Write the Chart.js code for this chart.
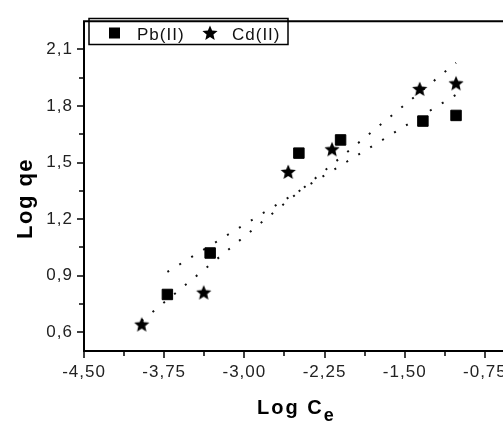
<!DOCTYPE html>
<html>
<head>
<meta charset="utf-8">
<title>Log qe vs Log Ce</title>
<script src="https://cdn.jsdelivr.net/npm/chart.js@4.4.1/dist/chart.umd.min.js"></script>
<style>
  html, body { margin: 0; padding: 0; background: #fff; overflow: hidden; width: 503px; height: 421px; }
  #wrap { position: relative; width: 540px; height: 421px; }
</style>
</head>
<body>
<div id="wrap"><canvas id="chart" width="540" height="421"></canvas></div>
<script>
// Measured isotherm points (log-log)
const pbLogCe = [-3.72, -3.32, -2.49, -2.10, -1.33, -1.02];
const pbLogQe = [0.80, 1.02, 1.55, 1.62, 1.72, 1.75];
const cdLogCe = [-3.96, -3.38, -2.59, -2.18, -1.36, -1.02];
const cdLogQe = [0.64, 0.81, 1.45, 1.57, 1.89, 1.92];

// Linear fit lines (end points)
const pbFitCe = [-3.72, -1.02];
const pbFitQe = [0.92, 1.86];
const cdFitCe = [-3.96, -1.02];
const cdFitQe = [0.66, 2.03];

// Axis ticks
const xMajorTicks = [-4.5, -3.75, -3.0, -2.25, -1.5, -0.75];
const xMinorTicks = [-4.125, -3.375, -2.625, -1.875, -1.125, -0.375];
const yMajorTicks = [0.6, 0.9, 1.2, 1.5, 1.8, 2.1];
const yMinorTicks = [0.75, 1.05, 1.35, 1.65, 1.95];

const seriesNames = ['Pb(II)', 'Cd(II)'];
const xTitle = ['Log C', 'e'];
const yTitle = 'Log qe';

const FONT = '"Liberation Sans", Arial, sans-serif';

const toPoints = (xs, ys) => xs.map((v, i) => ({ x: v, y: ys[i] }));
const commaFmt = (v, d) => v.toFixed(d).replace('.', ',');

// filled five-pointed star marker
function makeStar(outer, inner) {
  const size = Math.ceil(outer * 2 + 2);
  const c = document.createElement('canvas');
  c.width = size; c.height = size;
  const g = c.getContext('2d');
  const cx = size / 2, cy = size / 2 + 0.5;
  g.beginPath();
  for (let i = 0; i < 10; i++) {
    const r = i % 2 === 0 ? outer : inner;
    const a = -Math.PI / 2 + i * Math.PI / 5;
    const px = cx + r * Math.cos(a), py = cy + r * Math.sin(a);
    if (i === 0) g.moveTo(px, py); else g.lineTo(px, py);
  }
  g.closePath();
  g.fillStyle = '#000';
  g.fill();
  return c;
}
const starImg = makeStar(8, 3.6);

const framePlugin = {
  id: 'frame',
  beforeDraw(chart) {
    chart.ctx.letterSpacing = '1px';
  },
  afterDraw(chart) {
    const { ctx, chartArea: a, scales: { x, y } } = chart;
    ctx.save();
    ctx.letterSpacing = '0px';
    ctx.strokeStyle = '#000';
    ctx.lineWidth = 2;
    ctx.beginPath();
    ctx.moveTo(a.left, a.top); ctx.lineTo(a.right + 20, a.top);
    ctx.moveTo(a.left, a.top - 1); ctx.lineTo(a.left, a.bottom + 1);
    ctx.moveTo(a.left - 1, a.bottom); ctx.lineTo(a.right + 20, a.bottom);
    ctx.stroke();

    // tick marks, pointing outward
    ctx.lineWidth = 1.5;
    const mark = (x0, y0, x1, y1) => { ctx.beginPath(); ctx.moveTo(x0, y0); ctx.lineTo(x1, y1); ctx.stroke(); };
    xMajorTicks.forEach(v => { const p = Math.round(x.getPixelForValue(v)); mark(p, a.bottom, p, a.bottom + 7); });
    xMinorTicks.forEach(v => { const p = Math.round(x.getPixelForValue(v)); mark(p, a.bottom, p, a.bottom + 5); });
    yMajorTicks.forEach(v => { const p = Math.round(y.getPixelForValue(v)); mark(a.left, p, a.left - 7, p); });
    yMinorTicks.forEach(v => { const p = Math.round(y.getPixelForValue(v)); mark(a.left, p, a.left - 5, p); });

    // legend box
    ctx.lineWidth = 1.5;
    ctx.strokeRect(89, 18.5, 199, 26);
    ctx.fillStyle = '#000';
    ctx.fillRect(109, 27.5, 11, 11);
    ctx.drawImage(starImg, 210 - starImg.width / 2, 33 - starImg.height / 2);
    ctx.font = '17px ' + FONT;
    ctx.letterSpacing = '1px';
    ctx.textBaseline = 'alphabetic';
    ctx.textAlign = 'left';
    ctx.fillStyle = '#111';
    ctx.fillText(seriesNames[0], 137, 40);
    ctx.fillText(seriesNames[1], 232, 40);

    // axis titles
    ctx.fillStyle = '#000';
    ctx.font = 'bold 20px ' + FONT;
    ctx.letterSpacing = '2px';
    ctx.fillText(xTitle[0], 257, 414);
    const w = ctx.measureText(xTitle[0]).width;
    ctx.font = 'bold 18px ' + FONT;
    ctx.fillText(xTitle[1], 257 + w, 421);

    ctx.translate(32, 239);
    ctx.rotate(-Math.PI / 2);
    ctx.font = 'bold 22px ' + FONT;
    ctx.letterSpacing = '1.5px';
    ctx.fillText(yTitle, 0, 0);
    ctx.restore();
  }
};

new Chart(document.getElementById('chart'), {
  type: 'scatter',
  data: {
    datasets: [
      {
        label: seriesNames[0],
        data: toPoints(pbLogCe, pbLogQe),
        pointStyle: 'rect',
        pointRadius: 7.4,
        backgroundColor: '#000',
        borderColor: '#000',
        borderWidth: 1,
        order: 1
      },
      {
        label: seriesNames[1],
        data: toPoints(cdLogCe, cdLogQe),
        pointStyle: starImg,
        pointRadius: 8,
        backgroundColor: '#000',
        borderColor: '#000',
        order: 1
      },
      {
        label: 'Pb fit',
        data: toPoints(pbFitCe, pbFitQe),
        showLine: true,
        borderColor: '#111',
        borderWidth: 2,
        borderDash: [2, 12],
        pointRadius: 0,
        fill: false,
        order: 2
      },
      {
        label: 'Cd fit',
        data: toPoints(cdFitCe, cdFitQe),
        showLine: true,
        borderColor: '#111',
        borderWidth: 2,
        borderDash: [2, 12],
        pointRadius: 0,
        fill: false,
        order: 2
      }
    ]
  },
  options: {
    responsive: false,
    animation: false,
    devicePixelRatio: 1,
    layout: { padding: { left: 0, top: 15, right: 15, bottom: 0 } },
    plugins: { legend: { display: false }, tooltip: { enabled: false } },
    scales: {
      x: {
        type: 'linear',
        min: -4.5,
        max: -0.375,
        afterBuildTicks: s => { s.ticks = xMajorTicks.map(v => ({ value: v })); },
        afterFit: s => { s.height = 70; },
        grid: { display: false, drawTicks: false },
        border: { display: false },
        ticks: {
          padding: 11,
          maxRotation: 0,
          autoSkip: false,
          color: '#222',
          font: { family: FONT, size: 17 },
          callback: v => commaFmt(v, 2)
        }
      },
      y: {
        type: 'linear',
        min: 0.5,
        max: 2.25,
        afterBuildTicks: s => { s.ticks = yMajorTicks.map(v => ({ value: v })); },
        afterFit: s => { s.width = 84; },
        grid: { display: false, drawTicks: false },
        border: { display: false },
        ticks: {
          padding: 11,
          autoSkip: false,
          color: '#222',
          font: { family: FONT, size: 17 },
          callback: v => commaFmt(v, 1)
        }
      }
    }
  },
  plugins: [framePlugin]
});
</script>
</body>
</html>
